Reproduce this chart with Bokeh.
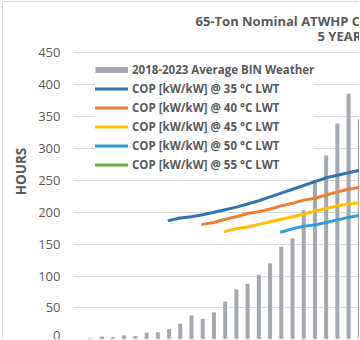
from bokeh.plotting import figure
from bokeh.models import Range1d, FixedTicker, Legend, LegendItem, Label, ColumnDataSource
from bokeh.embed import file_html
from bokeh.resources import INLINE

nan = float("nan")

# temperature bins (index order as in the source chart; x-axis itself is outside the crop)
bins = list(range(26))
hours = [0, 2, 5, 4, 7, 6, 11, 12, 17, 25, 38, 33, 43, 60, 79, 88, 102, 120,
         146, 159, 203, 250, 289, 339, 386, 346]
cop35 = [nan] * 8 + [1.87, 1.91, 1.93, 1.96, 2.00, 2.04, 2.08, 2.13, 2.18, 2.24,
                     2.30, 2.36, 2.42, 2.48, 2.54, 2.58, 2.62, 2.66]
cop40 = [nan] * 11 + [1.81, 1.84, 1.89, 1.93, 1.98, 2.01, 2.05, 2.10, 2.14, 2.19,
                      2.22, 2.27, 2.32, 2.36, 2.39]
cop45 = [nan] * 13 + [1.70, 1.74, 1.77, 1.81, 1.85, 1.89, 1.93, 1.97, 2.02, 2.06,
                      2.10, 2.13, 2.15]
cop50 = [nan] * 18 + [1.69, 1.74, 1.78, 1.80, 1.84, 1.88, 1.92, 1.95]
cop55 = [nan] * 26

series_names = ["2018-2023 Average BIN Weather",
                "COP [kW/kW] @ 35 °C LWT", "COP [kW/kW] @ 40 °C LWT",
                "COP [kW/kW] @ 45 °C LWT", "COP [kW/kW] @ 50 °C LWT",
                "COP [kW/kW] @ 55 °C LWT"]
y_ticks = [0, 50, 100, 150, 200, 250, 300, 350, 400, 450]
title_lines = ["65-Ton Nominal ATWHP COP", "5 YEAR AVERAGE"]

src = ColumnDataSource(dict(bin=bins, hours=hours, cop35=cop35, cop40=cop40,
                            cop45=cop45, cop50=cop50, cop55=cop55,
                            blank=[nan] * len(bins)))

GRAY_TXT = "#595959"
FONT = "Open Sans"

p = figure(width=357, height=338, output_backend="svg", toolbar_location=None,
           x_axis_location=None, x_range=Range1d(-0.517, 25.06),
           y_range=Range1d(-1.1, 528.9),
           min_border_left=70, min_border_right=0, min_border_top=0,
           min_border_bottom=0, outline_line_color=None,
           background_fill_color="white", border_fill_color="white")
p.styles = {"border-left": "1px solid #D9D9D9", "border-top": "1px solid #D9D9D9",
            "margin-left": "2px", "margin-top": "1px"}
p.extra_y_ranges = {"cop": Range1d(-0.011, 5.289)}

bars = p.vbar(x="bin", top="hours", width=0.36, source=src,
              fill_color="#A5A8AE", line_color=None)
# legend swatch for the bar series (thin bar, as in the source legend)
swatch = p.line(x="bin", y="blank", source=src, line_color="#A5A8AE", line_width=6)

colors = ["#2E75B6", "#ED7D31", "#FFC000", "#2E9FDC", "#70AD47"]
cols = ["cop35", "cop40", "cop45", "cop50", "cop55"]
line_renderers = []
for c, col in zip(colors, cols):
    r = p.line(x="bin", y=col, source=src, y_range_name="cop",
               line_color=c, line_width=3, line_cap="round")
    line_renderers.append(r)

yaxis = p.yaxis[0]
yaxis.ticker = FixedTicker(ticks=y_ticks)
yaxis.axis_line_color = None
yaxis.major_tick_line_color = None
yaxis.minor_tick_line_color = None
yaxis.major_tick_out = 0
yaxis.major_tick_in = 0
yaxis.major_label_standoff = 13
yaxis.major_label_text_font = FONT
yaxis.major_label_text_font_size = "13px"
yaxis.major_label_text_color = GRAY_TXT
yaxis.axis_label = "HOURS"
yaxis.axis_label_text_font = FONT
yaxis.axis_label_text_font_style = "bold"
yaxis.axis_label_text_font_size = "13.5px"
yaxis.axis_label_text_color = GRAY_TXT
yaxis.axis_label_standoff = 5

p.ygrid.ticker = FixedTicker(ticks=y_ticks)
p.ygrid.grid_line_color = "#D9D9D9"
p.xgrid.visible = False

items = [LegendItem(label=series_names[0], renderers=[swatch])]
for name, r in zip(series_names[1:], line_renderers):
    items.append(LegendItem(label=name, renderers=[r]))

legend = Legend(items=items, location=(22, 166), orientation="vertical",
                glyph_width=33, glyph_height=19, label_height=19, spacing=0,
                padding=4, label_standoff=4, margin=0,
                label_text_font=FONT, label_text_font_size="11.5px",
                label_text_font_style="bold", label_text_color=GRAY_TXT,
                border_line_color=None, background_fill_color="white",
                background_fill_alpha=1.0)
p.add_layout(legend, "center")

p.add_layout(Label(x=122, y=320, x_units="screen", y_units="screen",
                   text=title_lines[0], text_font=FONT, text_font_size="13px",
                   text_font_style="bold", text_color=GRAY_TXT,
                   text_align="left", text_baseline="middle"))
p.add_layout(Label(x=244, y=305, x_units="screen", y_units="screen",
                   text=title_lines[1], text_font=FONT, text_font_size="13px",
                   text_font_style="bold", text_color=GRAY_TXT,
                   text_align="left", text_baseline="middle"))

open("out.html", "w").write(file_html(p, INLINE))
